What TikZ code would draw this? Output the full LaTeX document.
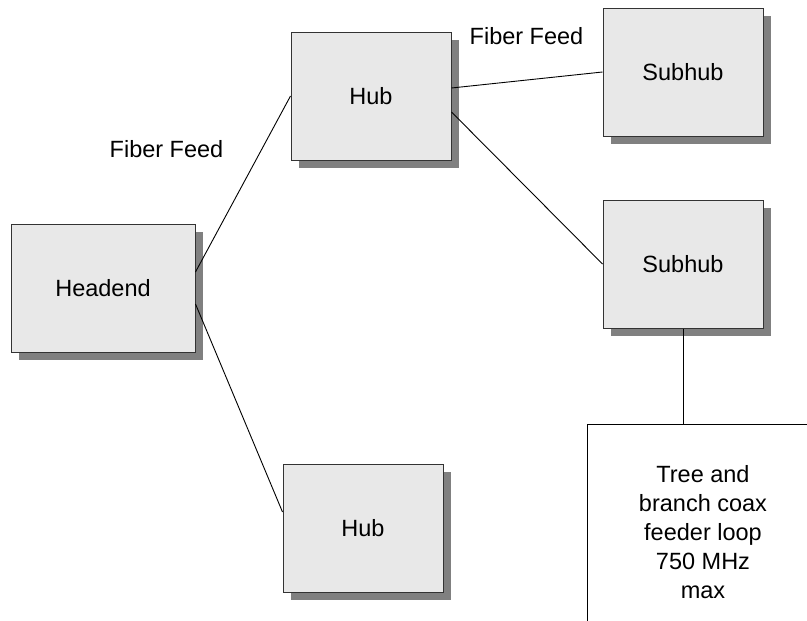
\documentclass[tikz,border=0pt]{standalone}
\usepackage{fontspec}
\setmainfont{Liberation Sans}
\usetikzlibrary{shadows}
\begin{document}
\begin{tikzpicture}[x=1pt,y=-1pt,
  boxnode/.style={draw=black!80, line width=1pt, fill=black!9, inner sep=0pt,
    minimum height=128pt, minimum width=160pt,
    drop shadow={shadow xshift=8pt, shadow yshift=-8pt, fill=black!50, opacity=1},
    font=\fontsize{23.5}{29}\selectfont},
  lbl/.style={inner sep=0pt, font=\fontsize{23.5}{29}\selectfont},
  conn/.style={draw=black, line width=0.9pt}]
\useasboundingbox (0,0) rectangle (807,621);
\fill[white] (0,0) rectangle (807,621);
\node[boxnode, minimum width=184pt] (head) at (103,288) {Headend};
\node[boxnode] (hubA) at (371,96) {Hub};
\node[boxnode] (hubB) at (363,528) {Hub};
\node[boxnode] (subA) at (683,72) {Subhub};
\node[boxnode] (subB) at (683,264) {Subhub};
\node[lbl, anchor=base] (fibA) at (166.5,157) {Fiber Feed};
\node[lbl, anchor=base] (fibB) at (526.5,45) {Fiber Feed};
\coordinate (treeTL) at (587,424);
\coordinate (treeTR) at (807,424);
\coordinate (treeBL) at (587,621);
\node[lbl, align=center] (tree) at (703,532.5) {Tree and\\branch coax\\feeder loop\\750 MHz\\max};
\draw[conn] ([yshift=16pt]head.east) -- (hubA.west);
\draw[conn] ([yshift=-16pt]head.east) -- ([yshift=16pt]hubB.west);
\draw[conn] ([yshift=8pt]hubA.east) -- (subA.west);
\draw[conn] ([yshift=-16pt]hubA.east) -- (subB.west);
\draw[conn] (subB.south) -- (subB.south |- treeTL);
\draw[conn] (treeTR) -- (treeTL) -- (treeBL);
\end{tikzpicture}
\end{document}
